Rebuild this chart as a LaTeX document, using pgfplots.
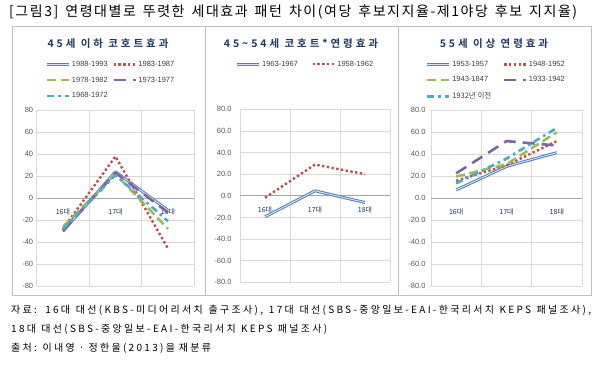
\documentclass[border=0pt]{standalone}
\usepackage{fontspec}
\setmainfont{Liberation Sans}
\newfontfamily\kr{Noto Sans CJK KR}
\newfontfamily\krtitle[LetterSpace=11]{Noto Sans CJK KR}
\newfontfamily\krfoot[LetterSpace=23]{Noto Sans CJK KR}
\newfontfamily\krpanel[LetterSpace=28]{Noto Sans CJK KR Bold}
\usepackage{pgfplots}
\pgfplotsset{compat=1.18}
\definecolor{cblue}{HTML}{4F81BD}
\definecolor{cred}{HTML}{C0504D}
\definecolor{cgreen}{HTML}{9BBB59}
\definecolor{cpurple}{HTML}{8064A2}
\definecolor{ccyan}{HTML}{4BACC6}
\definecolor{navy}{HTML}{1F3864}
\definecolor{gridc}{HTML}{D9D9D9}
\definecolor{tickc}{HTML}{595959}
\definecolor{boxc}{HTML}{BFBFBF}
\tikzset{
 sblue/.style={draw=cblue, line width=1pt, double=cblue!20, double distance=0.9pt},
 sred/.style={draw=cred, line width=2.4pt, dash pattern=on 2.4pt off 2.4pt},
 sgreen/.style={draw=cgreen, line width=2.6pt, dash pattern=on 9pt off 4.5pt},
 spurple/.style={draw=cpurple, line width=2.6pt, dash pattern=on 12pt off 7pt},
 scyan/.style={draw=ccyan, line width=2.6pt, dash pattern=on 7pt off 4pt on 2.6pt off 4pt},
}
\pgfplotsset{panel/.style={
  scale only axis, anchor=south west,
  xmin=0.5, xmax=3.5, ymin=-80, ymax=80, ytick={-80,-60,...,80},
  xtick={1,2,3}, xticklabels={16대,17대,18대},
  minor xtick={0.5,1.5,2.5,3.5}, xminorgrids, ymajorgrids,
  grid style={gridc, line width=0.7pt}, minor grid style={gridc, line width=0.7pt},
  axis x line*=middle, axis y line*=left,
  hide obscured x ticks=false, hide obscured y ticks=false,
  x axis line style={draw=gray!70, line width=0.8pt, -},
  y axis line style={draw=none},
  major tick length=0pt, minor tick length=0pt,
  xticklabel style={font=\kr\fontsize{7}{8}\selectfont, text=navy, yshift=-7pt},
  yticklabel style={font=\fontsize{7.5}{9}\selectfont, text=tickc},
  /pgf/number format/assume math mode=true,
  legend columns=2, legend cell align=left,
  legend style={draw=none, fill=none, font=\fontsize{7.5}{9}\selectfont, text=black!75,
     anchor=north west, inner sep=0pt, nodes={inner sep=1.5pt}, row sep=6pt},
  legend image code/.code={\draw[##1] (0pt,0pt) -- (22pt,0pt);},
  every axis plot/.append style={line join=round},
}}
\begin{document}
\begin{tikzpicture}
\useasboundingbox (0,0) rectangle (600pt,-365pt);
\fill[white] (0,0) rectangle (600pt,-365pt);
% frames
\draw[boxc, line width=0.8pt] (12pt,-26pt) rectangle (591pt,-295pt);
\draw[boxc, line width=0.8pt] (205pt,-26pt) -- (205pt,-295pt);
\draw[boxc, line width=0.8pt] (398.5pt,-26pt) -- (398.5pt,-295pt);
% main title
\node[anchor=west, inner sep=0pt, font=\krtitle\fontsize{14}{16}\selectfont] at (9pt,-12pt)
  {\makebox[568pt][s]{[그림3] 연령대별로 뚜렷한 세대효과 패턴 차이(여당 후보지지율-제1야당 후보 지지율)}};
% panel titles
\node[font=\krpanel\fontsize{10.5}{12}\selectfont, text=navy] at (108pt,-44pt) {45세 이하 코호트효과};
\node[font=\krpanel\fontsize{10.5}{12}\selectfont, text=navy] at (301pt,-44pt) {45\textasciitilde 54세 코호트*연령효과};
\node[font=\krpanel\fontsize{10.5}{12}\selectfont, text=navy] at (494pt,-44pt) {55세 이상 연령효과};

% Panel 1
\begin{axis}[panel, at={(36.7pt,-286pt)}, width=157.6pt, height=175.7pt,
  legend style={at={(axis description cs:0.055,1.29)}},
  legend style={/tikz/every even column/.append style={column sep=3pt}}]
\addplot[sblue] coordinates {(1,-30) (2,24) (3,-11)};
\addlegendentry{1988-1993}
\addplot[sred] coordinates {(1,-28) (2,38) (3,-46)};
\addlegendentry{1983-1987}
\addplot[sgreen] coordinates {(1,-26) (2,22) (3,-28)};
\addlegendentry{1978-1982}
\addplot[spurple] coordinates {(1,-30) (2,23) (3,-13)};
\addlegendentry{1973-1977}
\addplot[scyan] coordinates {(1,-28) (2,21) (3,-21)};
\addlegendentry{1968-1972}
\end{axis}

% Panel 2
\begin{axis}[panel, at={(240pt,-282.3pt)}, width=150pt, height=173pt,
  yticklabel style={xshift=-5pt, /pgf/number format/fixed, /pgf/number format/fixed zerofill, /pgf/number format/precision=1},
  legend style={at={(axis description cs:-0.03,1.29)}},
  legend style={/tikz/every even column/.append style={column sep=12pt}}]
\addplot[sblue] coordinates {(1,-19.4) (2,4.6) (3,-6.2)};
\addlegendentry{1963-1967}
\addplot[sred] coordinates {(1,-1.8) (2,28.9) (3,20)};
\addlegendentry{1958-1962}
\end{axis}

% Panel 3
\begin{axis}[panel, at={(431pt,-286.3pt)}, width=151pt, height=176pt,
  yticklabel style={xshift=-2pt, /pgf/number format/fixed, /pgf/number format/fixed zerofill, /pgf/number format/precision=1},
  legend style={at={(axis description cs:-0.035,1.29)}},
  legend style={/tikz/every even column/.append style={column sep=10pt}}]
\addplot[sblue] coordinates {(1,7.6) (2,29) (3,41.5)};
\addlegendentry{1953-1957}
\addplot[sred] coordinates {(1,16) (2,30) (3,52)};
\addlegendentry{1948-1952}
\addplot[sgreen] coordinates {(1,19.7) (2,31) (3,60)};
\addlegendentry{1943-1847}
\addplot[spurple] coordinates {(1,22.7) (2,52) (3,48)};
\addlegendentry{1933-1942}
\addplot[scyan] coordinates {(1,13.6) (2,36) (3,64)};
\addlegendentry{{\kr 1932년 이전}}
\end{axis}

% footnotes
\begin{scope}[every node/.style={anchor=west, inner sep=0pt, font=\krfoot\fontsize{10}{12}\selectfont}]
\node at (11pt,-310pt) {\makebox[580pt][s]{자료: 16대 대선(KBS-미디어리서치 출구조사), 17대 대선(SBS-중앙일보-EAI-한국리서치 KEPS 패널조사),}};
\node at (11pt,-329pt) {\makebox[316pt][s]{18대 대선(SBS-중앙일보-EAI-한국리서치 KEPS 패널조사)}};
\node at (11pt,-348pt) {\makebox[200pt][s]{출처: 이내영 · 정한울(2013)을 재분류}};
\end{scope}
\end{tikzpicture}
\end{document}
